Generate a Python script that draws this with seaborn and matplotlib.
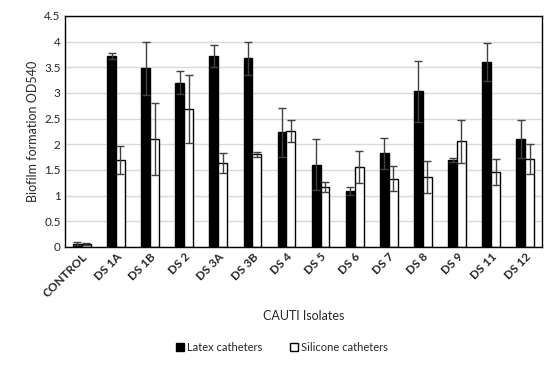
import pandas as pd
import numpy as np
import matplotlib
matplotlib.use("Agg")
import matplotlib.pyplot as plt
import seaborn as sns
from matplotlib.patches import Patch

isolates = ['CONTROL', 'DS 1A', 'DS 1B', 'DS 2', 'DS 3A', 'DS 3B', 'DS 4',
            'DS 5', 'DS 6', 'DS 7', 'DS 8', 'DS 9', 'DS 11', 'DS 12']
latex = [0.06, 3.72, 3.48, 3.20, 3.72, 3.67, 2.23, 1.60, 1.09, 1.82, 3.03, 1.70, 3.61, 2.11]
latex_err = [0.03, 0.06, 0.52, 0.22, 0.21, 0.33, 0.48, 0.50, 0.08, 0.30, 0.59, 0.04, 0.37, 0.37]
silicone = [0.06, 1.69, 2.10, 2.68, 1.63, 1.80, 2.26, 1.17, 1.56, 1.33, 1.36, 2.06, 1.46, 1.71]
silicone_err = [0.02, 0.28, 0.70, 0.66, 0.20, 0.04, 0.21, 0.10, 0.31, 0.25, 0.31, 0.42, 0.25, 0.29]
groups = ['Latex catheters', 'Silicone catheters']

df = pd.DataFrame({
    'isolate': isolates * 2,
    'od': latex + silicone,
    'err': latex_err + silicone_err,
    'type': [groups[0]] * len(isolates) + [groups[1]] * len(isolates),
})

sns.set_theme(style="white")
plt.rcParams['font.family'] = ['Lato', 'DejaVu Sans']

fig = plt.figure(figsize=(5.59, 3.69), dpi=100)
ax = fig.add_axes([0.116, 0.331, 0.854, 0.626])

sns.barplot(data=df, x='isolate', y='od', hue='type', order=isolates, hue_order=groups,
            palette=['black', 'white'], edgecolor='black', linewidth=1,
            width=0.52, errorbar=None, legend=False, ax=ax)

# error bars on the bar centres
for cont, g in zip(ax.containers, groups):
    sub = df[df['type'] == g].set_index('isolate').loc[isolates]
    xs = [p.get_x() + p.get_width() / 2 for p in cont.patches]
    ax.errorbar(xs, sub['od'], yerr=sub['err'], fmt='none', ecolor='#404040',
                elinewidth=1, capsize=3, capthick=1)

ax.set_ylim(0, 4.5)
ax.set_yticks(np.arange(0, 4.51, 0.5))
ax.set_yticklabels(['0', '0.5', '1', '1.5', '2', '2.5', '3', '3.5', '4', '4.5'], fontsize=8.5)
ax.yaxis.grid(True, color='#d9d9d9', linewidth=1)
ax.set_axisbelow(True)
ax.set_xlim(-0.5, len(isolates) - 0.5)
for s in ax.spines.values():
    s.set_color('black')
    s.set_linewidth(1)
ax.tick_params(axis='both', length=0, pad=3)
plt.setp(ax.get_xticklabels(), rotation=45, ha='right', rotation_mode='anchor',
         fontweight='bold', fontsize=8.5)
ax.set_ylabel('Biofilm formation OD540', fontsize=9)
ax.set_xlabel('CAUTI Isolates', fontsize=9, labelpad=8)

handles = [Patch(facecolor='black', edgecolor='black'),
           Patch(facecolor='white', edgecolor='black')]
fig.legend(handles, groups, loc='center', bbox_to_anchor=(0.505, 0.058), ncol=2,
           frameon=False, fontsize=8, handlelength=0.7, handleheight=0.7,
           handletextpad=0.3, columnspacing=2.5)

fig.savefig('out.png', dpi=100)
